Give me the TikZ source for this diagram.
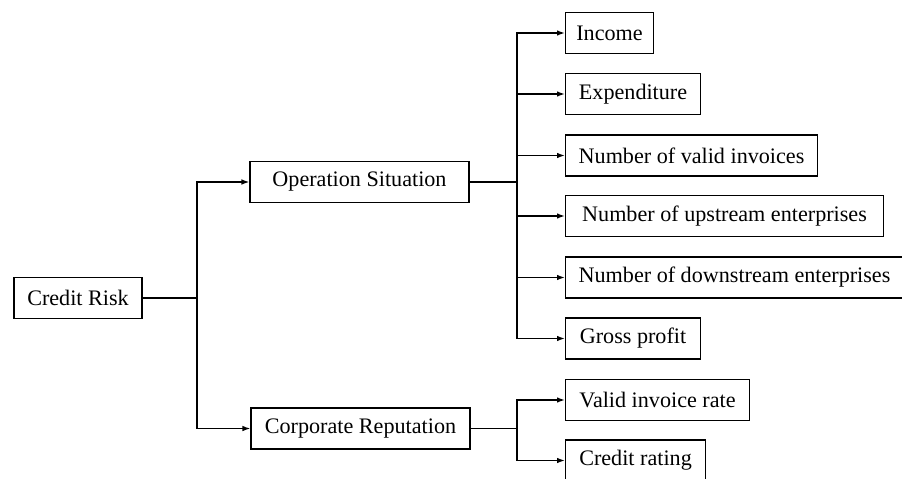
\documentclass[tikz,border=0pt]{standalone}
\usepackage{fontspec}
\setmainfont{Liberation Serif}
\usepackage{tikz}
\usetikzlibrary{arrows.meta, positioning, calc}

\begin{document}
\begin{tikzpicture}[
  x=0.03cm, y=-0.03cm,
  factor/.style={draw, line width=0.9pt, minimum height=1.23cm, inner sep=0pt,
                 font=\fontsize{18.9}{22}\selectfont, text centered},
  link/.style={-{Latex[length=2.4mm, width=1.7mm]}, line width=1.4pt},
  joint/.style={line width=1.4pt}
]
  \clip (0,0) rectangle (902,478);
  \fill[white] (0,0) rectangle (902,478);

  % root and the two dimensions
  \node[factor, minimum width=3.84cm] (cr) at (78,298) {Credit Risk};
  \node[factor, minimum width=6.57cm] (op) at (359.5,182) {Operation Situation};
  \node[factor, minimum width=6.57cm] (corp) at (360.5,428.5) {Corporate Reputation};

  % indicators
  \node[factor, anchor=west, minimum width=2.64cm] (inc) at (565,33) {Income};
  \node[factor, anchor=west, minimum width=4.05cm] (exp) at (565,94) {Expenditure};
  \node[factor, anchor=west, minimum width=7.56cm] (inv) at (565,155.5) {Number of valid invoices};
  \node[factor, anchor=west, minimum width=9.54cm] (up) at (565,216) {Number of upstream enterprises};
  \node[factor, anchor=west, minimum width=10.14cm] (down) at (565,277.5) {Number of downstream enterprises};
  \node[factor, anchor=west, minimum width=4.05cm] (gp) at (565,338.5) {Gross profit};
  \node[factor, anchor=west, minimum width=5.52cm] (rate) at (565,400) {Valid invoice rate};
  \node[factor, anchor=west, minimum width=4.2cm] (rating) at (565,460.5) {Credit rating};

  \coordinate (j1) at (197,298);
  \coordinate (j2) at (517,182);
  \coordinate (j3) at (517,428.5);

  \draw[joint] (cr) -- (j1);
  \draw[link] (j1) |- (op);
  \draw[link] (j1) |- (corp);

  \draw[joint] (op) -- (j2);
  \foreach \n in {inc, exp, inv, up, down, gp}
    \draw[link] (j2) |- (\n);

  \draw[joint] (corp) -- (j3);
  \draw[link] (j3) |- (rate);
  \draw[link] (j3) |- (rating);
\end{tikzpicture}
\end{document}
